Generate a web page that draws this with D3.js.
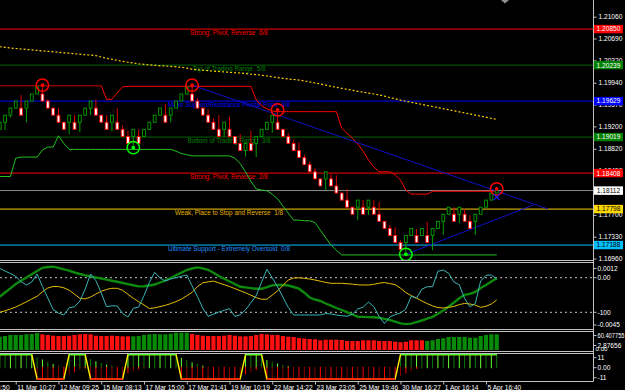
<!DOCTYPE html>
<html>
<head>
<meta charset="utf-8">
<script src="https://cdn.jsdelivr.net/npm/d3@7"></script>
<style>
  html, body { margin: 0; padding: 0; background: #000; }
  svg { display: block; }
  text { font-family: "Liberation Sans", Arial, sans-serif; }
</style>
</head>
<body>
<script>
// ---- candles (renko-like bars) ----
const openP = [1.1915,1.1927,1.1939,1.1951,1.1951,1.1951,1.1963,1.1975,1.1975,1.1963,
  1.1951,1.1939,1.1927,1.1927,1.1927,1.1927,1.1939,1.1951,1.1951,1.1939,
  1.1927,1.1927,1.1927,1.1915,1.1903,1.1903,1.1903,1.1903,1.1915,1.1927,
  1.1939,1.1939,1.1939,1.1951,1.1963,1.1975,1.1975,1.1963,1.1951,1.1939,
  1.1927,1.1915,1.1915,1.1915,1.1903,1.1891,1.1879,1.1891,1.1891,1.1903,
  1.1915,1.1927,1.1927,1.1915,1.1903,1.1891,1.1879,1.1867,1.1855,1.1843,
  1.1831,1.1831,1.1831,1.1819,1.1807,1.1795,1.1783,1.1783,1.1783,1.1783,
  1.1783,1.1771,1.1759,1.1747,1.1735,1.1723,1.1723,1.1735,1.1735,1.1735,
  1.1735,1.1735,1.1747,1.1759,1.1771,1.1771,1.1771,1.1771,1.1759,1.1759,
  1.1771,1.1783,1.1795,1.1807];
const closeP = [1.1927,1.1939,1.1951,1.1963,1.1939,1.1963,1.1975,1.1987,1.1963,1.1951,
  1.1939,1.1927,1.1915,1.1939,1.1915,1.1939,1.1951,1.1963,1.1939,1.1927,
  1.1915,1.1939,1.1915,1.1903,1.1891,1.1915,1.1891,1.1915,1.1927,1.1939,
  1.1951,1.1927,1.1951,1.1963,1.1975,1.1987,1.1963,1.1951,1.1939,1.1927,
  1.1915,1.1903,1.1927,1.1903,1.1891,1.1879,1.1891,1.1879,1.1903,1.1915,
  1.1927,1.1939,1.1915,1.1903,1.1891,1.1879,1.1867,1.1855,1.1843,1.1831,
  1.1819,1.1843,1.1819,1.1807,1.1795,1.1783,1.1771,1.1795,1.1771,1.1795,
  1.1771,1.1759,1.1747,1.1735,1.1723,1.1711,1.1735,1.1747,1.1723,1.1747,
  1.1723,1.1747,1.1759,1.1771,1.1783,1.1759,1.1783,1.1759,1.1747,1.1771,
  1.1783,1.1795,1.1807,1.18112];
const highP = [1.1927,1.1939,1.1951,1.1963,1.1973,1.1963,1.1975,1.1987,1.1990,1.1966,
  1.1951,1.1951,1.1927,1.1939,1.1939,1.1939,1.1951,1.1963,1.1966,1.1939,
  1.1939,1.1939,1.1951,1.1922,1.1913,1.1915,1.1915,1.1915,1.1927,1.1939,
  1.1951,1.1958,1.1951,1.1963,1.1975,1.1987,1.1990,1.1968,1.1951,1.1949,
  1.1934,1.1939,1.1927,1.1936,1.1903,1.1907,1.1891,1.1912,1.1903,1.1915,
  1.1927,1.1939,1.1948,1.1915,1.1909,1.1897,1.1893,1.1872,1.1860,1.1849,
  1.1831,1.1843,1.1839,1.1837,1.1807,1.1814,1.1783,1.1795,1.1795,1.1795,
  1.1795,1.1792,1.1759,1.1753,1.1749,1.1727,1.1735,1.1747,1.1746,1.1747,
  1.1758,1.1747,1.1759,1.1771,1.1783,1.1783,1.1783,1.1780,1.1769,1.1771,
  1.1783,1.1795,1.1807,1.1815];
const lowP = [1.1915,1.1914,1.1935,1.1951,1.1939,1.1927,1.1963,1.1975,1.1963,1.1951,
  1.1939,1.1927,1.1915,1.1907,1.1915,1.1910,1.1939,1.1939,1.1939,1.1927,
  1.1915,1.1912,1.1915,1.1903,1.1891,1.1884,1.1891,1.1903,1.1915,1.1927,
  1.1939,1.1927,1.1927,1.1951,1.1963,1.1975,1.1963,1.1951,1.1939,1.1927,
  1.1915,1.1903,1.1902,1.1903,1.1891,1.1879,1.1869,1.1879,1.1868,1.1903,
  1.1915,1.1909,1.1915,1.1903,1.1891,1.1879,1.1867,1.1855,1.1843,1.1831,
  1.1819,1.1812,1.1819,1.1807,1.1795,1.1783,1.1771,1.1761,1.1771,1.1770,
  1.1771,1.1759,1.1747,1.1735,1.1723,1.1711,1.1703,1.1735,1.1723,1.1735,
  1.1723,1.1710,1.1747,1.1736,1.1771,1.1759,1.1756,1.1759,1.1747,1.1736,
  1.1771,1.1783,1.1795,1.1807];

// ---- overlays on price ----
const maLine = [1.20551,1.20541,1.20529,1.20521,1.20512,1.20505,1.20497,1.20488,1.20480,1.20473,
  1.20465,1.20456,1.20448,1.20441,1.20432,1.20424,1.20415,1.20409,1.20400,1.20376,
  1.20354,1.20339,1.20320,1.20302,1.20288,1.20275,1.20261,1.20253,1.20244,1.20236,
  1.20227,1.20224,1.20217,1.20210,1.20202,1.20187,1.20170,1.20159,1.20153,1.20144,
  1.20137,1.20131,1.20124,1.20117,1.20110,1.20105,1.20097,1.20086,1.20078,1.20068,
  1.20054,1.20041,1.20027,1.20015,1.20003,1.19995,1.19986,1.19971,1.19954,1.19936,
  1.19919,1.19900,1.19881,1.19863,1.19846,1.19829,1.19812,1.19795,1.19780,1.19764,
  1.19749,1.19734,1.19713,1.19690,1.19668,1.19646,1.19627,1.19608,1.19591,1.19573,
  1.19554,1.19537,1.19518,1.19500,1.19483,1.19464,1.19445,1.19428,1.19410,1.19391,
  1.19374,1.19356,1.19337,1.19320];
const upperBand = [1.1989,1.1989,1.1989,1.1989,1.1989,1.1989,1.1989,1.1989,1.1989,1.1989,
  1.1989,1.1989,1.1989,1.1989,1.1989,1.1989,1.1989,1.1989,1.1989,1.1989,
  1.1966,1.1966,1.1977,1.1987,1.1988,1.1988,1.1988,1.1988,1.1988,1.1988,
  1.1988,1.1988,1.1988,1.1988,1.1988,1.1988,1.1988,1.1988,1.1988,1.1988,
  1.1988,1.1988,1.1988,1.1988,1.1988,1.1988,1.1988,1.1988,1.1965,1.1955,
  1.1950,1.1946,1.1945,1.1945,1.1945,1.1945,1.1945,1.1945,1.1945,1.1945,
  1.1945,1.1945,1.1945,1.1945,1.1917,1.1908,1.1900,1.1890,1.1878,1.1863,
  1.1851,1.1843,1.1843,1.1843,1.1838,1.1829,1.1812,1.1805,1.1805,1.1805,
  1.1805,1.1810,1.1810,1.1810,1.1810,1.1810,1.1810,1.1810,1.1810,1.1810,
  1.1810,1.1810,1.1810,1.1810];
const lowerBand = [1.1835,1.1835,1.1835,1.1866,1.1868,1.1868,1.1868,1.1868,1.1880,1.1885,
  1.1885,1.1904,1.1891,1.1881,1.1881,1.1881,1.1881,1.1881,1.1881,1.1881,
  1.1881,1.1881,1.1881,1.1881,1.1881,1.1881,1.1881,1.1881,1.1881,1.1881,
  1.1881,1.1881,1.1881,1.1878,1.1874,1.1872,1.1870,1.1870,1.1870,1.1870,
  1.1870,1.1870,1.1870,1.1870,1.1866,1.1857,1.1843,1.1827,1.1814,1.1812,
  1.1811,1.1805,1.1797,1.1785,1.1773,1.1761,1.1761,1.1760,1.1760,1.1757,
  1.1744,1.1731,1.1719,1.1710,1.1702,1.1702,1.1702,1.1702,1.1702,1.1702,
  1.1702,1.1702,1.1702,1.1702,1.1702,1.1702,1.1702,1.1702,1.1702,1.1702,
  1.1702,1.1702,1.1702,1.1702,1.1702,1.1702,1.1702,1.1702,1.1702,1.1702,
  1.1702,1.1702,1.1702,1.1702];

const murreyLevels = [1.20850, 1.20239, 1.19629, 1.19019, 1.18408, 1.17798, 1.17188];
const murreyNames = ["Strong, Pivot, Reverse  6/8", "Top of Trading Range  5/8",
  "Major Support/Resistance Pivotal Point  4/8", "Bottom of Trading Range  3/8",
  "Strong, Pivot, Reverse  2/8", "Weak, Place to Stop and Reverse  1/8",
  "Ultimate Support - Extremely Oversold  0/8"];
const bidPrice = 1.18112;
const priceTicks = [1.21060, 1.20690, 1.20320, 1.19940, 1.19570, 1.19200, 1.18820,
  1.18450, 1.18080, 1.17700, 1.17330, 1.16960];

const fractalHighs = [{i: 8, p: 1.1990}, {i: 36, p: 1.1990}, {i: 52, p: 1.1948}, {i: 93, p: 1.1814}];
const fractalLows = [{i: 25, p: 1.1884}, {i: 76, p: 1.1703}];
const trendLines = [
  [{i: 36, p: 1.1990}, {i: 102.6, p: 1.17799}],
  [{i: 76, p: 1.1703}, {i: 99.85, p: 1.17867}]
];
const signalMark = {i: 93, p: 1.1800};

// ---- oscillator window ----
const oscGreen = [-0.00167,-0.00125,-0.00084,-0.00040,-0.00007,0.00025,0.00058,0.00090,0.00122,0.00130,
  0.00133,0.00121,0.00107,0.00093,0.00075,0.00060,0.00046,0.00036,0.00025,0.00015,
  0.00004,-0.00007,-0.00018,-0.00030,-0.00041,-0.00052,-0.00064,-0.00062,-0.00055,-0.00045,
  -0.00025,-0.00005,0.00020,0.00047,0.00073,0.00100,0.00115,0.00126,0.00117,0.00102,
  0.00072,0.00040,0.00013,-0.00015,-0.00040,-0.00068,-0.00074,-0.00081,-0.00088,-0.00088,
  -0.00072,-0.00054,-0.00050,-0.00050,-0.00055,-0.00070,-0.00087,-0.00127,-0.00175,-0.00195,
  -0.00210,-0.00235,-0.00257,-0.00280,-0.00300,-0.00322,-0.00345,-0.00367,-0.00369,-0.00371,
  -0.00372,-0.00378,-0.00389,-0.00400,-0.00416,-0.00434,-0.00441,-0.00436,-0.00422,-0.00405,
  -0.00387,-0.00369,-0.00338,-0.00304,-0.00268,-0.00225,-0.00182,-0.00148,-0.00139,-0.00120,
  -0.00080,-0.00050,-0.00016,0.00017];
const oscYellow = [-0.00323,-0.00308,-0.00290,-0.00270,-0.00245,-0.00218,-0.00190,-0.00163,-0.00118,-0.00080,
  -0.00065,-0.00066,-0.00078,-0.00102,-0.00142,-0.00183,-0.00189,-0.00170,-0.00140,-0.00113,
  -0.00094,-0.00083,-0.00083,-0.00103,-0.00143,-0.00183,-0.00217,-0.00250,-0.00285,-0.00279,
  -0.00266,-0.00253,-0.00236,-0.00216,-0.00191,-0.00158,-0.00124,-0.00066,-0.00028,-0.00019,
  -0.00011,-0.00029,-0.00047,-0.00065,-0.00086,-0.00107,-0.00128,-0.00152,-0.00176,-0.00193,
  -0.00192,-0.00151,-0.00108,-0.00055,0.00000,0.00020,0.00022,0.00017,0.00010,0.00000,
  -0.00012,-0.00024,-0.00033,-0.00033,-0.00033,-0.00037,-0.00042,-0.00048,-0.00050,-0.00050,
  -0.00043,-0.00032,-0.00025,-0.00036,-0.00047,-0.00082,-0.00126,-0.00156,-0.00182,-0.00210,
  -0.00236,-0.00259,-0.00276,-0.00280,-0.00273,-0.00265,-0.00246,-0.00234,-0.00240,-0.00251,
  -0.00273,-0.00263,-0.00240,-0.00200];
const oscCyan = [0.00117,0.00090,0.00065,0.00037,-0.00017,-0.00050,-0.00020,0.00060,-0.00065,-0.00180,
  -0.00296,-0.00330,-0.00350,-0.00278,-0.00267,-0.00210,-0.00090,0.00060,-0.00007,-0.00130,
  -0.00267,-0.00258,-0.00260,-0.00335,-0.00370,-0.00283,-0.00270,-0.00157,-0.00025,0.00077,
  0.00020,-0.00010,0.00010,0.00024,0.00037,0.00050,-0.00058,-0.00165,-0.00282,-0.00363,
  -0.00342,-0.00320,-0.00303,-0.00286,-0.00364,-0.00348,-0.00299,-0.00227,-0.00157,-0.00022,
  0.00107,0.00022,-0.00068,-0.00172,-0.00274,-0.00350,-0.00350,-0.00350,-0.00350,-0.00350,
  -0.00350,-0.00335,-0.00340,-0.00350,-0.00357,-0.00363,-0.00343,-0.00290,-0.00272,-0.00220,
  -0.00266,-0.00365,-0.00435,-0.00370,-0.00346,-0.00330,-0.00290,-0.00163,-0.00182,-0.00092,
  -0.00067,-0.00067,0.00087,0.00100,0.00067,-0.00020,-0.00048,-0.00185,-0.00267,-0.00235,
  -0.00010,0.00047,0.00050,0.00010];
const oscLevels = [0, -100];

// ---- strength histogram window ----
const histVals = [46.4,48.9,52.4,52.4,52.4,54.8,55.9,59.4,54.8,52.4,
  49.9,48.9,48.9,49.9,52.4,54.8,55.9,54.8,49.9,48.9,
  48.9,49.9,48.9,47.8,47.8,47.8,48.9,52.4,54.8,55.9,
  54.8,54.8,56.9,60.4,60.4,60.4,55.9,52.4,49.9,48.9,
  48.9,48.9,49.9,52.4,49.9,47.8,47.8,48.9,52.4,55.9,
  54.8,52.4,52.4,48.9,46.4,45.4,42.0,40.0,38.4,37.5,
  33.9,36.0,36.0,36.0,34.9,31.4,31.4,31.4,33.9,33.9,
  33.9,31.4,31.4,31.4,29.0,26.9,29.0,33.9,33.9,33.9,
  31.4,33.9,38.4,40.9,45.4,45.4,45.4,45.4,42.9,42.9,
  48.9,52.4,54.8,54.8];
const histRuns = [["up", 8], ["down", 17], ["up", 11], ["down", 44], ["up", 14]];

// ---- trend window ----
const trendRuns = [[11, 7], [-11, 6], [11, 4], [-11, 7], [11, 10], [-11, 12], [11, 4], [-11, 25], [11, 19]];
const upStick = [11,11,11,11,11,11,11,8.5,6.5,4.5,
  2.5,1,0,11,11,11,11,7,5,3.5,
  2,1,0,0,11,11,11,11,11,11,
  11,11,11,11,8,6,4,2.5,1,0,
  0,0,0,0,0,0,11,11,11,11,
  6,4.5,3,1.5,0.5,0,0,0,0,0,
  0,0,0,0,0,0,0,0,0,0,
  0,0,0,0,0,11,11,11,11,11,
  11,11,11,11,11,11,11,11,11,11,
  11,11,11,11];
const downStick = [0,0,0,0,0,0,0,-11,-11,-11,
  -11,-11,-11,-7,-5,-3,-1.5,-11,-11,-11,
  -11,-11,-11,-11,-6,-4,-2.5,-1,0,0,
  0,0,0,0,-11,-11,-11,-11,-11,-11,
  -11,-11,-11,-11,-11,-11,-7,-5,-3,-1.5,
  -11,-11,-11,-11,-11,-11,-11,-11,-11,-11,
  -11,-11,-11,-11,-11,-11,-11,-11,-11,-11,
  -11,-11,-11,-11,-11,-8,-6,-4,-2,-0.5,
  0,0,0,0,0,0,0,0,0,0,
  0,0,0,0];

// ---- time axis ----
const timeIdx = [-5, 3, 11, 19, 27, 35, 43, 51, 59, 67, 75, 83, 91];
const timeLabels = ["9 Mar 23:50", "11 Mar 10:27", "12 Mar 09:25", "15 Mar 08:13", "17 Mar 15:00",
  "17 Mar 21:41", "19 Mar 10:19", "22 Mar 14:22", "23 Mar 23:05", "25 Mar 19:46",
  "30 Mar 16:27", "1 Apr 16:14", "5 Apr 16:40"];

// ================= drawing =================
const axisX = 593.5;
const silver = "#c0c0c0";
const n = openP.length;

const svg = d3.select("body").append("svg")
  .attr("width", 625).attr("height", 390)
  .style("background", "#000");

const x = d3.scaleLinear().domain([0, 93]).range([-0.3, 496.7]);
const yPrice = d3.scaleLinear().domain([1.16960, 1.21060]).range([258.5, 16.7]);
const yOsc = d3.scaleLinear().domain([-0.0045, 0.0012]).range([325, 268]);
const yLevel = d3.scaleLinear().domain([-100, 0]).range([312.3, 277.7]);
const yHist = d3.scaleLinear().domain([0, 60.407755]).range([350, 332.7]);
const yTrend = d3.scaleLinear().domain([-11, 11]).range([379, 354.5]);

const defs = svg.append("defs");
function clip(id, y0, y1) {
  defs.append("clipPath").attr("id", id).append("rect")
    .attr("x", 0).attr("y", y0).attr("width", axisX).attr("height", y1 - y0);
  return svg.append("g").attr("clip-path", `url(#${id})`);
}
const main = clip("cMain", 0, 260);
const osc = clip("cOsc", 263, 329);
const hist = clip("cHist", 332, 351);
const trend = clip("cTrend", 354, 381);

// murrey levels and labels
const murreyLine = ["#ff0000", "#006400", "#0000ff", "#006400", "#ff0000", "#ffcc00", "#00bfff"];
const murreyText = ["#ff0000", "#008000", "#0000ff", "#008000", "#ff0000", "#e6b400", "#1e90ff"];
const murreyWidth = [78, 73, 122, 83, 78, 108, 122];
main.selectAll(".mm").data(murreyLevels).join("line")
  .attr("x1", 0).attr("x2", axisX)
  .attr("y1", d => yPrice(d)).attr("y2", d => yPrice(d))
  .attr("stroke", (d, k) => murreyLine[k]).attr("stroke-width", 1);
main.selectAll(".mmt").data(murreyLevels).join("text")
  .attr("x", (d, k) => 229 - murreyWidth[k] / 2)
  .attr("y", d => yPrice(d) + 6.3)
  .attr("textLength", (d, k) => murreyWidth[k])
  .attr("lengthAdjust", "spacingAndGlyphs")
  .attr("font-size", 6.6)
  .style("white-space", "pre")
  .attr("fill", (d, k) => murreyText[k])
  .text((d, k) => murreyNames[k]);

// bid line
main.append("line").attr("x1", 0).attr("x2", axisX)
  .attr("y1", yPrice(bidPrice)).attr("y2", yPrice(bidPrice))
  .attr("stroke", "#8c8c8c");

// moving average (dotted)
main.append("path").datum(maLine)
  .attr("d", d3.line().x((d, i) => x(i)).y(d => yPrice(d)))
  .attr("fill", "none").attr("stroke", "#ffcc00").attr("stroke-width", 1.2)
  .attr("stroke-dasharray", "2,2");

// bands
const bandLine = d3.line().x((d, i) => x(i)).y(d => yPrice(d));
main.append("path").datum(upperBand).attr("d", bandLine)
  .attr("fill", "none").attr("stroke", "#ff0000").attr("stroke-width", 1);
[[0, 19], [77, 80]].forEach(([a, b]) => {
  main.append("path")
    .datum(upperBand.map((v, i) => ({v, i})).filter(d => d.i >= a && d.i <= b))
    .attr("d", d3.line().x(d => x(d.i)).y(d => yPrice(d.v)))
    .attr("fill", "none").attr("stroke", "#8b0000").attr("stroke-width", 1.2);
});
main.append("path").datum(lowerBand).attr("d", bandLine)
  .attr("fill", "none").attr("stroke", "#22c322").attr("stroke-width", 1);

// trend lines
main.selectAll(".tl").data(trendLines).join("line")
  .attr("x1", d => x(d[0].i)).attr("y1", d => yPrice(d[0].p))
  .attr("x2", d => x(d[1].i)).attr("y2", d => yPrice(d[1].p))
  .attr("stroke", "#1010c8").attr("stroke-width", 1);

// candles
const candles = d3.range(n).map(i => ({i, o: openP[i], h: highP[i], l: lowP[i], c: closeP[i]}));
const bull = d => d.c >= d.o;
main.selectAll(".wick").data(candles).join("line")
  .attr("x1", d => x(d.i)).attr("x2", d => x(d.i))
  .attr("y1", d => yPrice(d.h)).attr("y2", d => yPrice(d.l))
  .attr("stroke", d => bull(d) ? "#00a000" : "#e00000").attr("stroke-width", 1);
main.selectAll(".body").data(candles).join("rect")
  .attr("x", d => x(d.i) - 1.4).attr("width", 2.8)
  .attr("y", d => yPrice(Math.max(d.o, d.c)))
  .attr("height", d => Math.max(1, Math.abs(yPrice(d.o) - yPrice(d.c))))
  .attr("fill", d => bull(d) ? "#000" : "#fff")
  .attr("stroke", d => bull(d) ? "#00a000" : "#ff0000").attr("stroke-width", 0.9);

// fractal circles
function ring(list, col) {
  main.selectAll(null).data(list).join("circle")
    .attr("cx", d => x(d.i)).attr("cy", d => yPrice(d.p)).attr("r", 6.2)
    .attr("fill", "none").attr("stroke", col).attr("stroke-width", 1.5);
  main.selectAll(null).data(list).join("circle")
    .attr("cx", d => x(d.i)).attr("cy", d => yPrice(d.p)).attr("r", 1.9)
    .attr("fill", col);
}
ring(fractalHighs, "#ff0000");
ring(fractalLows, "#00ff00");

// signal cross under last bar
const sx = x(signalMark.i), sy = yPrice(signalMark.p);
main.append("path").attr("d", `M${sx - 3},${sy - 3}L${sx + 3},${sy + 3}M${sx + 3},${sy - 3}L${sx - 3},${sy + 3}`)
  .attr("stroke", "#2020ff").attr("stroke-width", 1.2);

// chart shift marker
svg.append("path").attr("d", "M501,0L509,0L505,3.5Z").attr("fill", "#909090");

// ---- oscillator window ----
osc.selectAll(".lvl").data(oscLevels).join("line")
  .attr("x1", 0).attr("x2", axisX)
  .attr("y1", d => yLevel(d)).attr("y2", d => yLevel(d))
  .attr("stroke", silver).attr("stroke-dasharray", "2,3").attr("stroke-width", 1);
const oscLine = d3.line().x((d, i) => x(i)).y(d => yOsc(d));
osc.append("path").datum(oscGreen).attr("d", oscLine)
  .attr("fill", "none").attr("stroke", "#0d8a0d").attr("stroke-width", 2.4);
osc.append("path").datum(oscYellow).attr("d", oscLine)
  .attr("fill", "none").attr("stroke", "#e6bc00").attr("stroke-width", 1);
osc.append("path").datum(oscCyan).attr("d", oscLine)
  .attr("fill", "none").attr("stroke", "#38b4b4").attr("stroke-width", 1);

// ---- histogram window ----
const histSide = histRuns.flatMap(([s, k]) => d3.range(k).map(() => s));
hist.selectAll("rect").data(histVals).join("rect")
  .attr("x", (d, i) => x(i) - 2.1).attr("width", 4.2)
  .attr("y", d => yHist(d)).attr("height", d => 350 - yHist(d))
  .attr("fill", (d, i) => histSide[i] === "up" ? "#078a07" : "#ff1010");

// ---- trend window ----
const trendLine = trendRuns.flatMap(([v, k]) => d3.range(k).map(() => v));
trend.selectAll(".up").data(upStick).join("line")
  .attr("x1", (d, i) => x(i)).attr("x2", (d, i) => x(i))
  .attr("y1", yTrend(0) + 1.5).attr("y2", d => yTrend(d))
  .attr("stroke", (d, i) => i % 2 ? "#0a7a0a" : "#66ff33")
  .attr("stroke-width", d => d > 0 ? 1 : 0);
trend.selectAll(".dn").data(downStick).join("line")
  .attr("x1", (d, i) => x(i)).attr("x2", (d, i) => x(i))
  .attr("y1", yTrend(0)).attr("y2", d => yTrend(d))
  .attr("stroke", (d, i) => i % 2 ? "#8b0000" : "#ff0000")
  .attr("stroke-width", d => d < 0 ? 1 : 0);
trend.append("path").datum(trendLine)
  .attr("d", d3.line().x((d, i) => x(i)).y(d => yTrend(d)))
  .attr("fill", "none").attr("stroke", "#ffee00").attr("stroke-width", 1.4);
for (let i = 0; i < n - 1; i++) {
  if (trendLine[i] === trendLine[i + 1]) {
    trend.append("line")
      .attr("x1", x(i)).attr("x2", x(i + 1))
      .attr("y1", yTrend(trendLine[i])).attr("y2", yTrend(trendLine[i]))
      .attr("stroke", trendLine[i] > 0 ? "#44ff22" : "#ff0000").attr("stroke-width", 1.4);
  }
}

// ---- frames ----
[260.5, 262.5, 329.5, 331.5, 351.5, 353.5, 381.5].forEach(yy => {
  svg.append("line").attr("x1", 0).attr("x2", axisX).attr("y1", yy).attr("y2", yy)
    .attr("stroke", silver).attr("stroke-width", 1);
});
svg.append("line").attr("x1", axisX).attr("x2", axisX).attr("y1", 0).attr("y2", 381.5)
  .attr("stroke", silver).attr("stroke-width", 1);

// ---- price axis ----
const pAxis = svg.append("g").attr("transform", `translate(${axisX},0)`)
  .call(d3.axisRight(yPrice).tickValues(priceTicks).tickSize(3).tickPadding(2)
    .tickFormat(d3.format(".5f")));
pAxis.select(".domain").remove();
pAxis.selectAll("line").attr("stroke", silver);
pAxis.selectAll("text").attr("fill", "#fff").attr("font-size", 6.6)
  .attr("font-family", "Liberation Sans, Arial, sans-serif");

// price tags
const tagBg = ["#ff0000", "#008000", "#0000ff", "#008000", "#ff0000", "#ffd700", "#00bfff", "#ffffff"];
const tagFg = ["#fff", "#fff", "#fff", "#fff", "#fff", "#000", "#000", "#000"];
const tags = murreyLevels.concat([bidPrice]);
svg.selectAll(".tag").data(tags).join("rect")
  .attr("x", axisX + 0.5).attr("y", d => yPrice(d) - 4.2)
  .attr("width", 29).attr("height", 8.4)
  .attr("fill", (d, k) => tagBg[k]);
svg.selectAll(".tagt").data(tags).join("text")
  .attr("x", axisX + 15).attr("y", d => yPrice(d) + 2.4)
  .attr("text-anchor", "middle").attr("font-size", 6.6)
  .attr("fill", (d, k) => tagFg[k])
  .text(d => d3.format(".5f")(d));

// ---- sub-window labels ----
function sideLabels(list) {
  list.forEach(([txt, yy, len]) => {
    svg.append("line").attr("x1", axisX).attr("x2", axisX + 3).attr("y1", yy).attr("y2", yy)
      .attr("stroke", silver);
    const t = svg.append("text").attr("x", axisX + 4).attr("y", yy + 2.4)
      .attr("font-size", 6.6).attr("fill", "#fff").text(txt);
    if (len) t.attr("textLength", len).attr("lengthAdjust", "spacingAndGlyphs");
  });
}
sideLabels([["0.0012", yOsc(0.0012) + 0.5], ["0.00", yLevel(0)], ["-100", yLevel(-100)],
  ["-0.0045", yOsc(-0.0045)]]);
sideLabels([["60.407755", 335.5, 27], ["2.87656", 345.5]]);
svg.append("text").attr("x", axisX + 2).attr("y", 351.3).attr("font-size", 6.2)
  .attr("fill", "#fff").text("0.00");
sideLabels([["11", 357.7], ["0.00", 367.7], ["-11", 377.7]]);

// ---- time axis ----
const tAxis = svg.append("g").attr("transform", "translate(0,381.5)")
  .call(d3.axisBottom(x).tickValues(timeIdx).tickSize(3).tickPadding(1)
    .tickFormat((d, k) => timeLabels[k]));
tAxis.select(".domain").remove();
tAxis.selectAll("line").attr("stroke", silver);
tAxis.selectAll("text").attr("fill", "#fff").attr("font-size", 6.6)
  .attr("text-anchor", "start").attr("x", 1)
  .attr("font-family", "Liberation Sans, Arial, sans-serif");
</script>
</body>
</html>
